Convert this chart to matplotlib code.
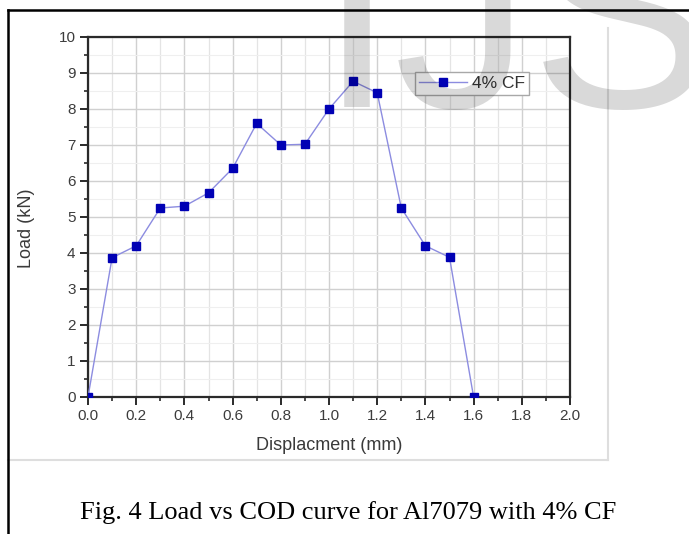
import numpy as np
import matplotlib
matplotlib.use("Agg")
import matplotlib.pyplot as plt
from matplotlib.lines import Line2D
from matplotlib.ticker import MultipleLocator, FormatStrFormatter

# data
displacement = [0.0, 0.1, 0.2, 0.3, 0.4, 0.5, 0.6, 0.7, 0.8, 0.9,
                1.0, 1.1, 1.2, 1.3, 1.4, 1.5, 1.6]
load = [0.0, 3.87, 4.2, 5.25, 5.3, 5.67, 6.35, 7.6, 7.0, 7.02,
        8.0, 8.77, 8.45, 5.25, 4.2, 3.88, 0.0]
series_label = "4% CF"
caption = "Fig. 4 Load vs COD curve for Al7079 with 4% CF"

W, H = 689, 534
plt.rcParams['font.family'] = ['Liberation Sans', 'DejaVu Sans']
fig = plt.figure(figsize=(W / 100, H / 100), dpi=100)
fig.patch.set_facecolor('white')

# axes box in pixels: x 88..570, y 37..397
ax = fig.add_axes([88 / W, 1 - 397 / H, (570 - 88) / W, (397 - 37) / H])

ax.plot(displacement, load, color='#8c8ce0', lw=1.0, marker='s',
        markersize=6, markerfacecolor='#0000b4', markeredgecolor='#0000b4',
        label=series_label, zorder=3)

ax.set_xlim(0, 2.0)
ax.set_ylim(0, 10)
ax.xaxis.set_major_locator(MultipleLocator(0.2))
ax.xaxis.set_minor_locator(MultipleLocator(0.1))
ax.yaxis.set_major_locator(MultipleLocator(1))
ax.yaxis.set_minor_locator(MultipleLocator(0.5))
ax.xaxis.set_major_formatter(FormatStrFormatter('%.1f'))

ax.grid(which='major', color='#d0d0d0', lw=1.0)
ax.grid(which='minor', axis='x', color='#e4e4e4', lw=0.9)
ax.grid(which='minor', axis='y', color='#efefef', lw=0.8)
ax.set_axisbelow(True)

for s in ax.spines.values():
    s.set_linewidth(1.6)
    s.set_color('#2a2a2a')

ax.tick_params(which='major', direction='out', length=6, width=1.4,
               color='#2a2a2a', labelsize=11, labelcolor='#3c3c3c', pad=3)
ax.tick_params(which='minor', direction='out', length=3, width=1.2,
               color='#2a2a2a')

ax.set_xlabel("Displacment (mm)", fontsize=13, color='#3a3a3a', labelpad=10)
ax.set_ylabel("Load (kN)", fontsize=13, color='#3a3a3a', labelpad=14)
ax.yaxis.set_label_coords(-0.11, 0.47)

leg = ax.legend(loc='upper left', bbox_to_anchor=(0.678, 0.903),
                borderaxespad=0, fancybox=False, fontsize=12.5,
                handlelength=2.8, handletextpad=0.3, borderpad=0.22,
                framealpha=1)
leg.get_frame().set_edgecolor('#a8a8a8')
leg.get_frame().set_linewidth(1.0)
for t in leg.get_texts():
    t.set_color('#333333')

# light frame of the chart picture
fig.add_artist(Line2D([8 / W, 608 / W], [1 - 460 / H, 1 - 460 / H],
                      color='#dedede', lw=1.5))
fig.add_artist(Line2D([608 / W, 608 / W], [1 - 28 / H, 1 - 460 / H],
                      color='#dedede', lw=1.5))

# page frame lines
fig.add_artist(Line2D([8 / W, 1.0], [1 - 10 / H, 1 - 10 / H],
                      color='black', lw=1.8))
fig.add_artist(Line2D([8 / W, 8 / W], [1 - 10 / H, 0.0],
                      color='black', lw=1.8))

fig.text(0.505, 1 - 513 / H, caption, ha='center', va='center',
         fontsize=19, family='Liberation Serif', color='black')

# watermark
fig.text(319 / W, 1 - 107 / H, "IJS", ha='left', va='baseline',
         fontsize=197, family='Liberation Sans', color='black',
         alpha=0.15, zorder=10)

fig.savefig("out.png", dpi=100)
